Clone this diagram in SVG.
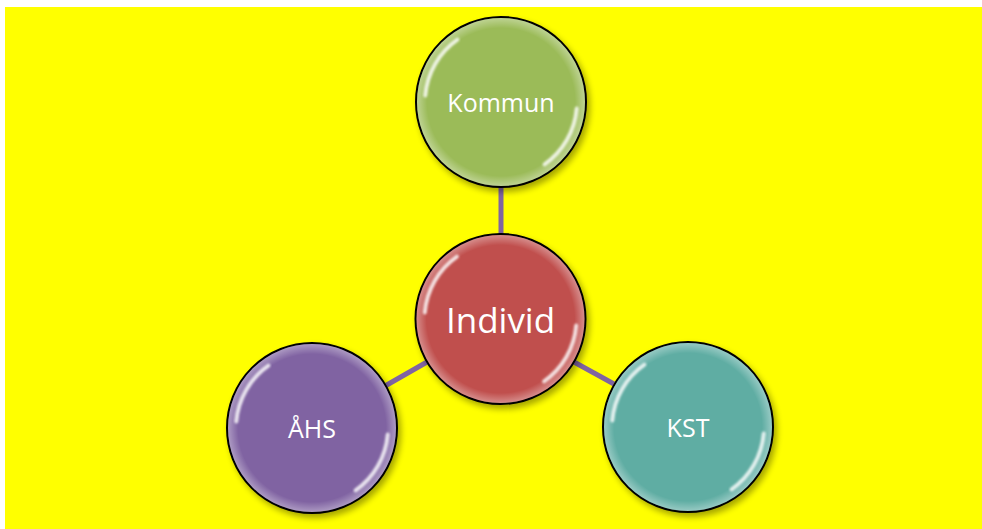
<svg xmlns="http://www.w3.org/2000/svg" width="982" height="529" viewBox="0 0 982 529">
<defs>
<style>
.edge{stroke:#8064A2;stroke-width:5;fill:none}
.ball{stroke:#000;stroke-width:2}
.lbl{font-family:"Open Sans","Liberation Sans",sans-serif;fill:#fff;text-anchor:middle;dominant-baseline:central}
.hl{fill:none;stroke:#fff;stroke-linecap:round}
</style>
<filter id="sh" x="-20%" y="-20%" width="150%" height="150%">
<feGaussianBlur in="SourceAlpha" stdDeviation="3"/>
<feOffset dx="3" dy="4"/>
<feComponentTransfer><feFuncA type="linear" slope="0.35"/></feComponentTransfer>
<feMerge><feMergeNode/><feMergeNode in="SourceGraphic"/></feMerge>
</filter>
<filter id="bl"><feGaussianBlur stdDeviation="1.3"/></filter>
<radialGradient id="rim" cx="0.5" cy="0.5" r="0.5">
<stop offset="0.88" stop-color="#fff" stop-opacity="0"/>
<stop offset="1" stop-color="#fff" stop-opacity="0.35"/>
</radialGradient>
<g id="gloss">
<path class="hl" d="M -75.7 -6.6 A 76 76 0 0 1 -43.6 -62.3" stroke-width="4" stroke-opacity="0.8" filter="url(#bl)"/>
<path class="hl" d="M 75.7 6.6 A 76 76 0 0 1 43.6 62.3" stroke-width="4" stroke-opacity="0.8" filter="url(#bl)"/>
<circle r="84" fill="url(#rim)"/>
</g>
</defs>
<rect x="5" y="7" width="977" height="522" fill="#FFFF00"/>
<g id="connectors">
<line class="edge" x1="501" y1="186" x2="501" y2="235"/>
<line class="edge" x1="427" y1="362" x2="385" y2="386"/>
<line class="edge" x1="574" y1="362" x2="614" y2="384"/>
</g>
<g id="node-kommun" transform="translate(501,102)">
<circle class="ball" r="85" fill="#9BBB59" filter="url(#sh)"/>
<use href="#gloss"/>
<text class="lbl" y="0" font-size="25">Kommun</text>
</g>
<g id="node-individ" transform="translate(500.5,319)">
<circle class="ball" r="85" fill="#C0504D" filter="url(#sh)"/>
<use href="#gloss"/>
<text class="lbl" y="0" font-size="35">Individ</text>
</g>
<g id="node-ahs" transform="translate(312,428)">
<circle class="ball" r="85" fill="#8064A2" filter="url(#sh)"/>
<use href="#gloss"/>
<text class="lbl" y="0" font-size="25">ÅHS</text>
</g>
<g id="node-kst" transform="translate(688,427)">
<circle class="ball" r="85" fill="#5EADA3" filter="url(#sh)"/>
<use href="#gloss"/>
<text class="lbl" y="0" font-size="25">KST</text>
</g>
</svg>
